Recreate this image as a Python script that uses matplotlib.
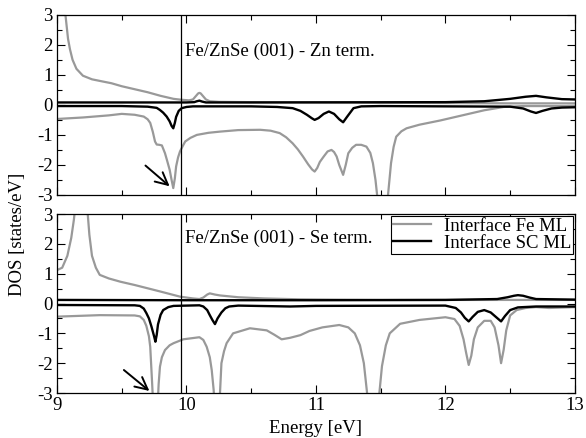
import matplotlib
matplotlib.use('Agg')
import matplotlib.pyplot as plt
from matplotlib.ticker import MultipleLocator

plt.rcParams['font.family'] = ['Liberation Serif', 'DejaVu Serif']
plt.rcParams['axes.unicode_minus'] = False

# ---- data ----
fermi = 9.96
gray = '#999999'

# top panel: Zn terminated
zn_fe_up_x = [9.0, 9.05, 9.065, 9.075, 9.085, 9.1, 9.12, 9.15, 9.2, 9.27, 9.35, 9.42, 9.5,
              9.6, 9.7, 9.8, 9.9, 9.96, 10.02, 10.05, 10.07, 10.09, 10.1, 10.11, 10.13, 10.15,
              10.18, 10.25, 10.5, 11.0, 11.5, 12.0, 12.5, 13.0]
zn_fe_up_y = [6.0, 4.0, 3.0, 2.6, 2.2, 1.85, 1.5, 1.2, 0.97, 0.85, 0.78, 0.72, 0.62,
              0.52, 0.42, 0.3, 0.2, 0.17, 0.15, 0.18, 0.28, 0.38, 0.4, 0.38, 0.28, 0.18,
              0.12, 0.1, 0.09, 0.08, 0.07, 0.06, 0.05, 0.05]

zn_fe_dn_x = [9.0, 9.2, 9.4, 9.5, 9.6, 9.67, 9.7, 9.72, 9.74, 9.757, 9.77, 9.79, 9.81, 9.834,
              9.85, 9.87, 9.885, 9.898, 9.91, 9.92, 9.935, 9.95, 9.97, 9.99, 10.03, 10.08,
              10.17, 10.26, 10.4, 10.57, 10.65, 10.72, 10.77, 10.82, 10.86, 10.9, 10.94, 10.97,
              10.99, 11.01, 11.03, 11.06, 11.09, 11.12, 11.14, 11.16, 11.18, 11.21, 11.23,
              11.25, 11.28, 11.31, 11.35, 11.39, 11.42, 11.44, 11.46, 11.48, 11.515, 11.55,
              11.57, 11.58, 11.6, 11.62, 11.66, 11.7, 11.8, 11.96, 12.1, 12.3, 12.45, 12.6, 13.0]
zn_fe_dn_y = [-0.47, -0.42, -0.35, -0.3, -0.33, -0.39, -0.48, -0.6, -0.9, -1.22, -1.32,
              -1.33, -1.35, -1.61, -1.85, -2.16, -2.5, -2.77, -2.45, -2.05, -1.75, -1.55,
              -1.38, -1.22, -1.1, -1.0, -0.93, -0.89, -0.84, -0.83, -0.86, -0.94, -1.08,
              -1.28, -1.48, -1.72, -1.98, -2.15, -2.22, -2.1, -1.9, -1.72, -1.55, -1.5,
              -1.57, -1.72, -2.0, -2.33, -2.0, -1.61, -1.43, -1.33, -1.33, -1.39, -1.6,
              -1.94, -2.5, -3.3, -5.0, -3.3, -2.4, -1.94, -1.4, -1.06, -0.88, -0.78, -0.66,
              -0.52, -0.38, -0.18, -0.07, -0.04, -0.04]

zn_sc_up_x = [9.0, 10.0, 10.06, 10.08, 10.1, 10.12, 10.15, 10.5, 12.0, 12.3, 12.5, 12.62,
              12.7, 12.78, 12.9, 13.0]
zn_sc_up_y = [0.08, 0.08, 0.09, 0.12, 0.14, 0.11, 0.08, 0.08, 0.09, 0.12, 0.2, 0.27,
              0.3, 0.25, 0.19, 0.18]

zn_sc_dn_x = [9.0, 9.5, 9.7, 9.77, 9.795, 9.82, 9.847, 9.87, 9.885, 9.898, 9.91, 9.92, 9.94,
              9.963, 10.0, 10.05, 10.5, 10.7, 10.82, 10.88, 10.93, 10.97, 10.99, 11.02, 11.06,
              11.1, 11.14, 11.18, 11.21, 11.24, 11.29, 11.35, 11.5, 12.5, 12.6, 12.66, 12.7,
              12.75, 12.82, 12.9, 13.0]
zn_sc_dn_y = [-0.04, -0.04, -0.06, -0.1, -0.17, -0.26, -0.39, -0.55, -0.7, -0.78, -0.6,
              -0.4, -0.2, -0.11, -0.07, -0.05, -0.05, -0.07, -0.11, -0.2, -0.33, -0.45, -0.5,
              -0.44, -0.3, -0.22, -0.3, -0.48, -0.58, -0.4, -0.11, -0.05, -0.04, -0.06, -0.12,
              -0.22, -0.27, -0.2, -0.12, -0.09, -0.08]

# bottom panel: Se terminated
se_fe_up_x = [9.0, 9.04, 9.08, 9.11, 9.13, 9.15, 9.17, 9.2, 9.23, 9.25, 9.27, 9.3, 9.33,
              9.4, 9.49, 9.6, 9.8, 9.95, 10.05, 10.1, 10.13, 10.16, 10.18, 10.22, 10.26, 10.4,
              10.6, 10.88, 11.5, 12.0, 12.5, 13.0]
se_fe_up_y = [1.12, 1.2, 1.6, 2.2, 2.8, 3.6, 5.0, 4.5, 3.4, 2.3, 1.6, 1.2, 0.96,
              0.84, 0.73, 0.62, 0.4, 0.23, 0.17, 0.15, 0.2, 0.3, 0.34, 0.3, 0.27, 0.21,
              0.17, 0.14, 0.12, 0.12, 0.12, 0.12]

se_fe_dn_x = [9.0, 9.33, 9.6, 9.64, 9.67, 9.69, 9.71, 9.72, 9.735, 9.76, 9.785, 9.795, 9.81,
              9.834, 9.87, 9.9, 9.975, 10.1, 10.13, 10.156, 10.18, 10.195, 10.21, 10.235,
              10.26, 10.27, 10.29, 10.31, 10.36, 10.49, 10.62, 10.68, 10.735, 10.8, 10.88,
              10.95, 11.05, 11.18, 11.25, 11.3, 11.34, 11.37, 11.395, 11.445, 11.49, 11.51,
              11.54, 11.57, 11.65, 11.8, 12.0, 12.07, 12.11, 12.14, 12.16, 12.18, 12.2, 12.22,
              12.25, 12.3, 12.35, 12.38, 12.41, 12.43, 12.45, 12.47, 12.5, 12.55, 12.62, 12.7,
              12.8, 13.0]
se_fe_dn_y = [-0.44, -0.39, -0.4, -0.43, -0.55, -0.75, -1.1, -1.45, -2.7, -5.0, -2.7, -2.12,
              -1.8, -1.56, -1.4, -1.33, -1.2, -1.13, -1.22, -1.45, -1.8, -2.23, -2.9, -5.0,
              -2.9, -2.0, -1.6, -1.33, -1.0, -0.83, -0.9, -1.05, -1.2, -1.15, -1.06, -0.92,
              -0.8, -0.72, -0.8, -1.0, -1.4, -2.0, -3.0, -5.0, -3.0, -2.1, -1.4, -1.0, -0.68,
              -0.55, -0.46, -0.52, -0.75, -1.2, -1.65, -2.06, -1.75, -1.2, -0.8, -0.58, -0.58,
              -0.8, -1.4, -2.0, -1.55, -0.9, -0.4, -0.22, -0.15, -0.12, -0.15, -0.12]

se_sc_up_x = [9.0, 10.0, 11.0, 12.0, 12.4, 12.48, 12.53, 12.56, 12.6, 12.65, 12.7, 13.0]
se_sc_up_y = [0.12, 0.11, 0.11, 0.12, 0.15, 0.21, 0.26, 0.28, 0.26, 0.2, 0.15, 0.13]

se_sc_dn_x = [9.0, 9.6, 9.64, 9.67, 9.69, 9.71, 9.73, 9.75, 9.76, 9.77, 9.78, 9.8, 9.82,
              9.86, 9.9, 10.1, 10.13, 10.16, 10.18, 10.2, 10.22, 10.24, 10.27, 10.3, 10.33,
              10.4, 10.8, 11.0, 12.0, 12.08, 12.12, 12.15, 12.18, 12.21, 12.25, 12.3, 12.35,
              12.39, 12.43, 12.46, 12.5, 12.56, 12.7, 13.0]
se_sc_dn_y = [-0.05, -0.06, -0.08, -0.17, -0.32, -0.5, -0.78, -1.1, -1.28, -1.05, -0.7,
              -0.38, -0.22, -0.12, -0.08, -0.06, -0.1, -0.22, -0.39, -0.55, -0.69, -0.5,
              -0.3, -0.16, -0.1, -0.07, -0.1, -0.08, -0.07, -0.15, -0.3, -0.48, -0.6, -0.45,
              -0.28, -0.22, -0.3, -0.45, -0.6, -0.42, -0.22, -0.13, -0.1, -0.1]

xticks = [9, 10, 11, 12, 13]
yticks = [-3, -2, -1, 0, 1, 2, 3]

fig = plt.figure(figsize=(5.86, 4.38), dpi=100)
ax_top = fig.add_axes([0.0973, 0.5548, 0.8837, 0.4116])
ax_bot = fig.add_axes([0.0973, 0.1027, 0.8837, 0.4087])

panels = [
    (ax_top, zn_fe_up_x, zn_fe_up_y, zn_fe_dn_x, zn_fe_dn_y,
     zn_sc_up_x, zn_sc_up_y, zn_sc_dn_x, zn_sc_dn_y, 'Fe/ZnSe (001) - Zn term.', 1.77),
    (ax_bot, se_fe_up_x, se_fe_up_y, se_fe_dn_x, se_fe_dn_y,
     se_sc_up_x, se_sc_up_y, se_sc_dn_x, se_sc_dn_y, 'Fe/ZnSe (001) - Se term.', 2.2),
]

for (ax, fux, fuy, fdx, fdy, sux, suy, sdx, sdy, label, ty) in panels:
    ax.plot(fux, fuy, color=gray, lw=1.6, label='Interface Fe ML')
    ax.plot(fdx, fdy, color=gray, lw=1.6)
    ax.plot(sux, suy, color='black', lw=1.7, label='Interface SC ML')
    ax.plot(sdx, sdy, color='black', lw=1.7)
    ax.axvline(fermi, color='black', lw=0.9)
    ax.text(9.99, ty, label, fontsize=13.5, va='center', ha='left')

    ax.set_xlim(9, 13)
    ax.set_ylim(-3, 3)
    ax.set_xticks(xticks)
    ax.set_yticks(yticks)
    ax.xaxis.set_minor_locator(MultipleLocator(0.5))
    ax.yaxis.set_minor_locator(MultipleLocator(0.5))
    ax.tick_params(which='both', direction='in', top=True, right=True, labelsize=13.5, width=0.8)
    ax.tick_params(which='major', length=6, pad=3)
    ax.tick_params(which='minor', length=3.5)
    for s in ax.spines.values():
        s.set_linewidth(0.9)

ax_top.tick_params(labelbottom=False)

ax_top.annotate('', xy=(9.886, -2.77), xytext=(9.667, -1.96),
                arrowprops=dict(arrowstyle='->', lw=1.4, color='black', mutation_scale=22))
ax_bot.annotate('', xy=(9.73, -2.99), xytext=(9.5, -2.17),
                arrowprops=dict(arrowstyle='->', lw=1.4, color='black', mutation_scale=22))

leg = ax_bot.legend(loc='upper right', fontsize=13.5, frameon=True, fancybox=False,
                    edgecolor='black', framealpha=1, borderpad=0.1, labelspacing=0.0,
                    handlelength=2.0, handletextpad=0.7, borderaxespad=0.1)
leg.get_frame().set_linewidth(0.8)

ax_bot.set_xlabel('Energy [eV]', fontsize=13.5, labelpad=4)
fig.text(0.03, 0.466, 'DOS [states/eV]', rotation=90, fontsize=13.5, va='center', ha='center')

fig.savefig('out.png', dpi=100)
